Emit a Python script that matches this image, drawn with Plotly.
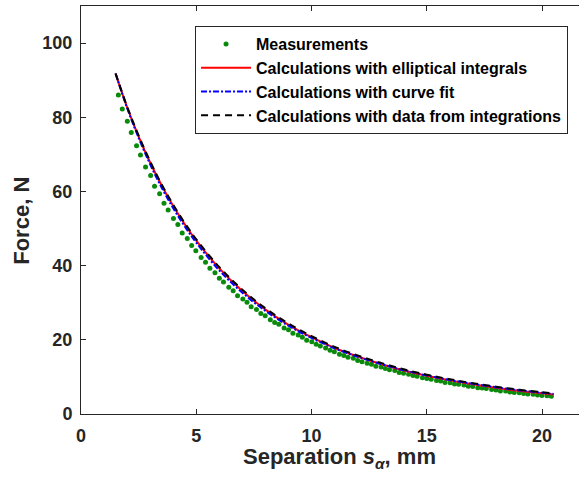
import plotly.graph_objects as go

# Measurements
x_meas = [1.62,1.79,2.01,2.18,2.41,2.58,2.80,3.02,3.19,3.41,3.60,3.78,4.01,4.20,4.39,4.61,4.80,4.98,
          5.21,5.40,5.59,5.81,6.00,6.18,6.41,6.60,6.79,7.02,7.20,7.38,7.61,7.80,7.99,8.21,8.40,8.58,
          8.81,9.00,9.19,9.42,9.60,9.79,10.01,10.20,10.38,10.61,10.80,10.99,11.21,11.40,11.58,11.81,
          12.00,12.19,12.41,12.60,12.79,13.02,13.20,13.38,13.61,13.80,13.99,14.21,14.40,14.58,14.81,
          15.00,15.19,15.42,15.60,15.79,16.01,16.20,16.38,16.61,16.80,16.99,17.21,17.40,17.58,17.81,
          18.00,18.19,18.42,18.60,18.79,19.01,19.20,19.38,19.61,19.80,19.99,20.21,20.40]
y_meas = [86.0,82.2,78.9,75.9,72.3,69.8,66.6,64.3,61.4,59.4,56.8,55.0,52.7,51.1,48.8,47.3,45.4,44.0,
          42.2,40.9,39.3,38.1,36.6,35.6,34.2,33.2,31.9,31.0,30.1,28.9,28.2,27.1,26.5,25.4,24.7,24.2,
          23.2,22.7,21.8,21.3,20.7,19.9,19.5,18.8,18.3,17.8,17.2,16.8,16.1,15.8,15.3,15.0,
          14.4,14.1,13.7,13.4,12.9,12.7,12.3,11.9,11.7,11.2,11.0,10.7,10.4,10.2,9.8,
          9.6,9.4,9.0,8.9,8.5,8.4,8.1,8.0,7.8,7.5,7.4,7.1,7.0,6.9,6.6,
          6.5,6.2,6.2,5.9,5.8,5.7,5.5,5.4,5.3,5.1,5.0,4.9,4.8]

# Calculations
x_calc = [1.5,2,2.5,3,3.5,4,4.5,5,6,7,8,9,10,11,12,13,14,15,16,17,18,19,20,20.5]
y_elliptic = [91.8,82.7,74.8,67.8,61.6,56.05,51.15,46.75,39.25,33.15,28.15,24.05,20.7,17.8,15.5,13.5,
              11.75,10.3,9.07,8.0,7.07,6.27,5.58,5.27]
y_curvefit = [91.8,82.5,74.45,67.3,61.0,55.5,50.6,46.2,38.7,32.7,27.8,23.8,20.5,17.7,15.45,13.5,
              11.8,10.4,9.16,8.14,7.21,6.41,5.72,5.4]
y_integr = [91.8,82.9,75.05,68.1,61.9,56.4,51.5,47.1,39.6,33.5,28.5,24.4,21.0,18.1,15.8,13.8,
            12.05,10.6,9.36,8.29,7.36,6.56,5.87,5.55]

x_ticks = [0, 5, 10, 15, 20]
y_ticks = [0, 20, 40, 60, 80, 100]

FONT = "Liberation Sans, Arial, Helvetica, sans-serif"
AX = "#262626"

fig = go.Figure()
fig.add_trace(go.Scatter(x=x_meas, y=y_meas, mode="markers", name="Measurements",
                         marker=dict(color="#0a8a0a", size=5)))
fig.add_trace(go.Scatter(x=x_calc, y=y_elliptic, mode="lines", name="Calculations with elliptical integrals",
                         line=dict(color="#ff0000", width=2, shape="spline")))
fig.add_trace(go.Scatter(x=x_calc, y=y_curvefit, mode="lines", name="Calculations with curve fit",
                         line=dict(color="#0000ff", width=2, dash="6px,2px,2px,2px", shape="spline")))
fig.add_trace(go.Scatter(x=x_calc, y=y_integr, mode="lines", name="Calculations with data from integrations",
                         line=dict(color="#000000", width=2, dash="7px,5px", shape="spline")))

fig.update_layout(
    template="none",
    width=579, height=480,
    margin=dict(l=81, r=0, t=6, b=66, pad=0, autoexpand=False),
    paper_bgcolor="white", plot_bgcolor="white",
    font=dict(family=FONT, color="#262626", size=18, weight="bold"),
    showlegend=True,
    legend=dict(x=0.229, y=0.951, xanchor="left", yanchor="top",
                bgcolor="white", bordercolor="#262626", borderwidth=1,
                font=dict(family=FONT, size=16, color="black", weight="bold"),
                itemwidth=50, tracegroupgap=0),
    xaxis=dict(range=[0, 21.6], tickvals=x_ticks, ticktext=[str(v) for v in x_ticks],
               ticks="inside", ticklen=5, tickcolor=AX, showline=True, linecolor=AX, linewidth=1,
               mirror="ticks", showgrid=False, zeroline=False, automargin=False,
               tickfont=dict(family=FONT, size=18, color="#262626", weight="bold"),
               ticklabelstandoff=5),
    yaxis=dict(range=[0, 110], tickvals=y_ticks, ticktext=[str(v) for v in y_ticks],
               ticks="inside", ticklen=5, tickcolor=AX, showline=True, linecolor=AX, linewidth=1,
               mirror=False, showgrid=False, zeroline=False, automargin=False,
               tickfont=dict(family=FONT, size=18, color="#262626", weight="bold"),
               ticklabelstandoff=4),
    annotations=[
        dict(text="Separation <i>s</i><sub><i>α</i></sub>, mm", xref="paper", yref="paper",
             x=0.52, y=-0.108, xanchor="center", yanchor="middle", showarrow=False,
             font=dict(family=FONT, size=22, color="#262626", weight="bold")),
        dict(text="Force, N", xref="paper", yref="paper", textangle=-90,
             x=-0.121, y=0.473, xanchor="center", yanchor="middle", showarrow=False,
             font=dict(family=FONT, size=22, color="#262626", weight="bold")),
    ],
)

fig.write_html("out.html", config={"displayModeBar": False},
               post_script="document.body.style.margin='0px';document.body.style.overflow='hidden';")
